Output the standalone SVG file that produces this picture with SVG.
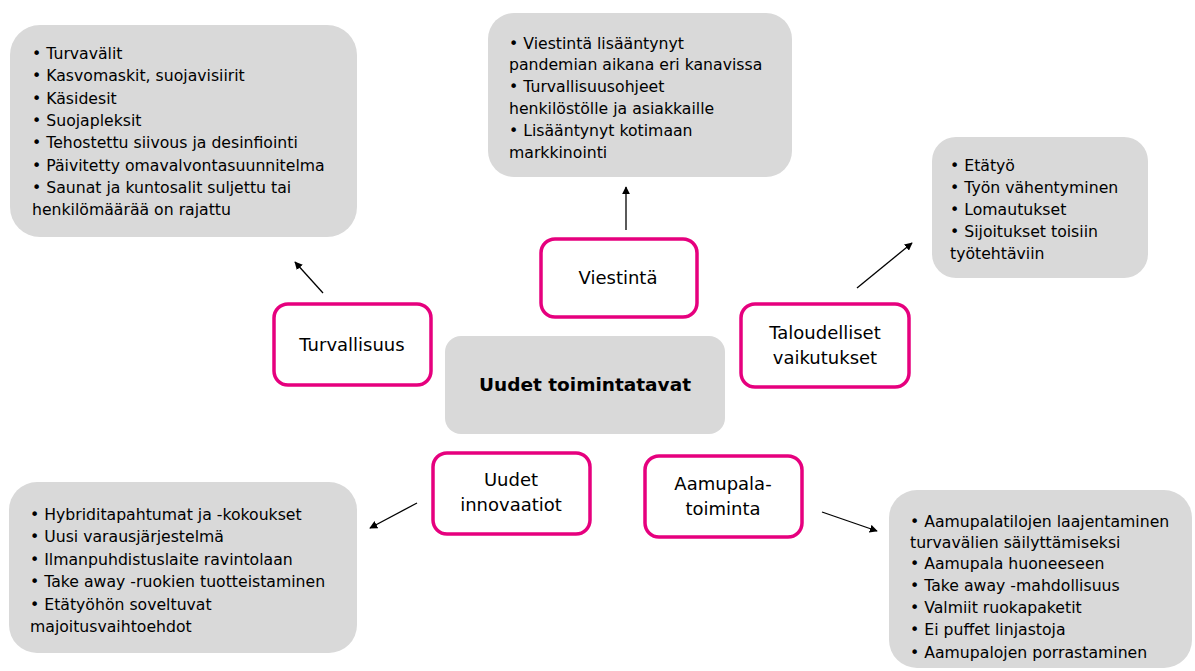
<svg xmlns="http://www.w3.org/2000/svg" width="1195" height="671" viewBox="0 0 1195 671">
<defs>
<style>
.bg{fill:#ffffff}
.gray{fill:#d9d9d9;stroke:none}
.pink{fill:#ffffff;stroke:#e6007e;stroke-width:3.5}
.list{font-family:"DejaVu Sans",Verdana,sans-serif;font-size:15.7px;fill:#000000}
.lbl{font-family:"DejaVu Sans",Verdana,sans-serif;font-size:18px;fill:#000000;text-anchor:middle}
.bold{font-family:"DejaVu Sans",Verdana,sans-serif;font-size:18.5px;font-weight:bold;fill:#000000;text-anchor:middle}
.conn{stroke:#000000;stroke-width:1.3;fill:none;marker-end:url(#ah)}
</style>
<marker id="ah" viewBox="0 0 10 10" refX="9" refY="5" markerWidth="8" markerHeight="8" markerUnits="userSpaceOnUse" orient="auto">
<path d="M0,0 L10,5 L0,10 z" fill="#000000"/>
</marker>
</defs>
<rect class="bg" x="0" y="0" width="1195" height="671"/>

<g id="connectors">
<line class="conn" x1="323" y1="293" x2="295" y2="262"/>
<line class="conn" x1="626" y1="230" x2="626" y2="187"/>
<line class="conn" x1="857" y1="288" x2="912" y2="243"/>
<line class="conn" x1="417" y1="503" x2="370" y2="528"/>
<line class="conn" x1="822" y1="512" x2="877" y2="531"/>
</g>

<g id="center">
<rect class="gray" x="445" y="336" width="280" height="98" rx="16"/>
<text class="bold" x="585" y="391">Uudet toimintatavat</text>
</g>

<g id="turvallisuus">
<rect class="pink" x="274" y="304" width="157" height="81" rx="14"/>
<text class="lbl" x="352" y="351">Turvallisuus</text>
</g>

<g id="viestinta">
<rect class="pink" x="541" y="239" width="156" height="78" rx="14"/>
<text class="lbl" x="618" y="284">Viestintä</text>
</g>

<g id="taloudelliset">
<rect class="pink" x="741" y="304" width="168" height="83" rx="14"/>
<text class="lbl" x="825" y="339">Taloudelliset</text>
<text class="lbl" x="825" y="364">vaikutukset</text>
</g>

<g id="innovaatiot">
<rect class="pink" x="433" y="453" width="157" height="81" rx="14"/>
<text class="lbl" x="511" y="486">Uudet</text>
<text class="lbl" x="511" y="511">innovaatiot</text>
</g>

<g id="aamupala">
<rect class="pink" x="645" y="456" width="157" height="81" rx="14"/>
<text class="lbl" x="723" y="490">Aamupala-</text>
<text class="lbl" x="723" y="515">toiminta</text>
</g>

<g id="turvallisuus-list">
<rect class="gray" x="10" y="25" width="347" height="212" rx="30"/>
<text class="list" x="32" y="59">• Turvavälit</text>
<text class="list" x="32" y="81">• Kasvomaskit, suojavisiirit</text>
<text class="list" x="32" y="104">• Käsidesit</text>
<text class="list" x="32" y="126">• Suojapleksit</text>
<text class="list" x="32" y="148">• Tehostettu siivous ja desinfiointi</text>
<text class="list" x="32" y="171">• Päivitetty omavalvontasuunnitelma</text>
<text class="list" x="32" y="193">• Saunat ja kuntosalit suljettu tai</text>
<text class="list" x="32" y="215">henkilömäärää on rajattu</text>
</g>

<g id="viestinta-list">
<rect class="gray" x="488" y="13" width="304" height="164" rx="26"/>
<text class="list" x="509" y="49">• Viestintä lisääntynyt</text>
<text class="list" x="509" y="70">pandemian aikana eri kanavissa</text>
<text class="list" x="509" y="92">• Turvallisuusohjeet</text>
<text class="list" x="509" y="114">henkilöstölle ja asiakkaille</text>
<text class="list" x="509" y="136">• Lisääntynyt kotimaan</text>
<text class="list" x="509" y="158">markkinointi</text>
</g>

<g id="talous-list">
<rect class="gray" x="932" y="137" width="216" height="141" rx="24"/>
<text class="list" x="950" y="171">• Etätyö</text>
<text class="list" x="950" y="193">• Työn vähentyminen</text>
<text class="list" x="950" y="215">• Lomautukset</text>
<text class="list" x="950" y="237">• Sijoitukset toisiin</text>
<text class="list" x="950" y="259">työtehtäviin</text>
</g>

<g id="innovaatiot-list">
<rect class="gray" x="9" y="482" width="348" height="171" rx="28"/>
<text class="list" x="30" y="520">• Hybriditapahtumat ja -kokoukset</text>
<text class="list" x="30" y="542">• Uusi varausjärjestelmä</text>
<text class="list" x="30" y="565">• Ilmanpuhdistuslaite ravintolaan</text>
<text class="list" x="30" y="587">• Take away -ruokien tuotteistaminen</text>
<text class="list" x="30" y="610">• Etätyöhön soveltuvat</text>
<text class="list" x="30" y="632">majoitusvaihtoehdot</text>
</g>

<g id="aamupala-list">
<rect class="gray" x="889" y="490" width="303" height="178" rx="28"/>
<text class="list" x="910" y="527">• Aamupalatilojen laajentaminen</text>
<text class="list" x="910" y="548">turvavälien säilyttämiseksi</text>
<text class="list" x="910" y="569">• Aamupala huoneeseen</text>
<text class="list" x="910" y="591">• Take away -mahdollisuus</text>
<text class="list" x="910" y="613">• Valmiit ruokapaketit</text>
<text class="list" x="910" y="635">• Ei puffet linjastoja</text>
<text class="list" x="910" y="658">• Aamupalojen porrastaminen</text>
</g>
</svg>
